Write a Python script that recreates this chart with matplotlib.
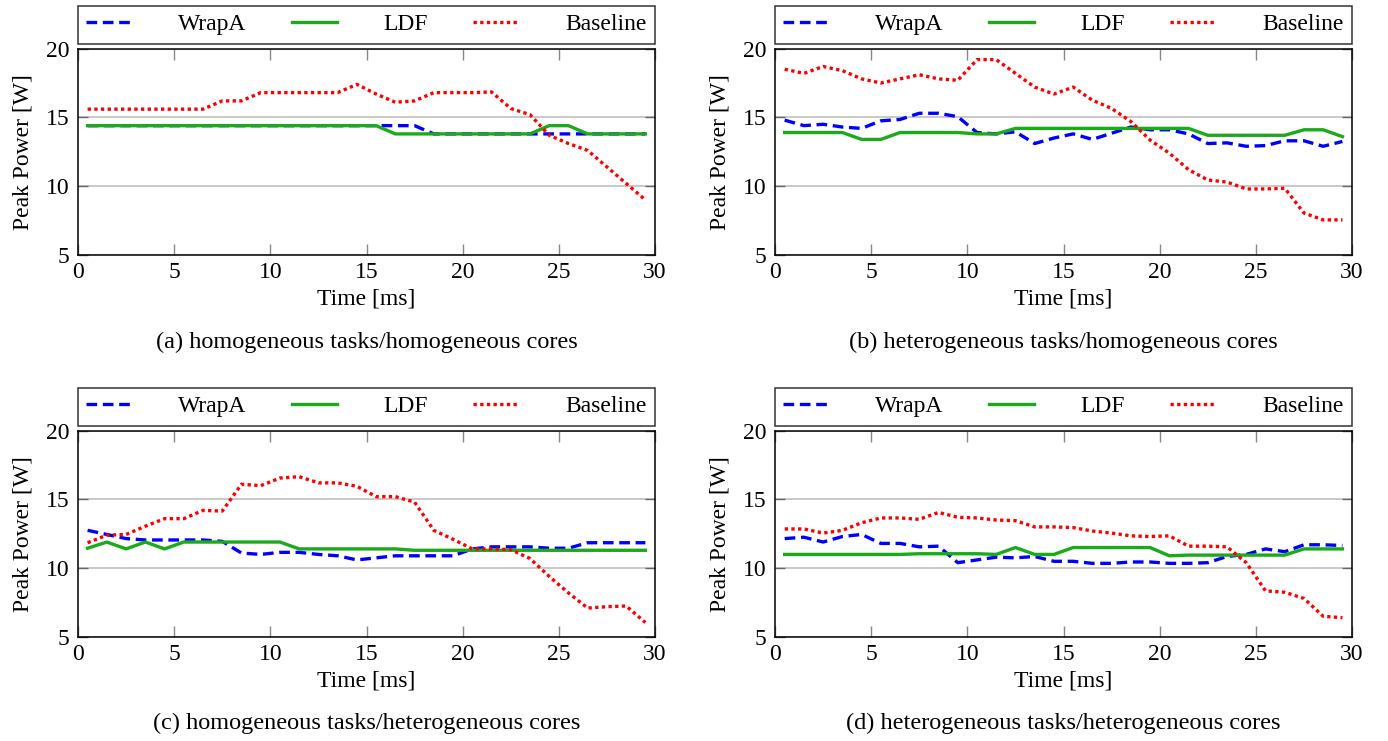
import matplotlib
matplotlib.use("Agg")
import matplotlib.pyplot as plt

plt.rcParams["font.family"] = ["Liberation Serif", "DejaVu Serif"]

time_ms = [0.5, 1.5, 2.5, 3.5, 4.5, 5.5, 6.5, 7.5, 8.5, 9.5,
           10.5, 11.5, 12.5, 13.5, 14.5, 15.5, 16.5, 17.5, 18.5, 19.5,
           20.5, 21.5, 22.5, 23.5, 24.5, 25.5, 26.5, 27.5, 28.5, 29.5]

# (a) homogeneous tasks / homogeneous cores
wrapa_a = [14.4, 14.4, 14.4, 14.4, 14.4, 14.4, 14.4, 14.4, 14.4, 14.4,
           14.4, 14.4, 14.4, 14.4, 14.4, 14.4, 14.4, 14.4, 13.8, 13.8,
           13.8, 13.8, 13.8, 13.8, 13.8, 13.8, 13.8, 13.8, 13.8, 13.8]
ldf_a = [14.4, 14.4, 14.4, 14.4, 14.4, 14.4, 14.4, 14.4, 14.4, 14.4,
         14.4, 14.4, 14.4, 14.4, 14.4, 14.4, 13.8, 13.8, 13.8, 13.8,
         13.8, 13.8, 13.8, 13.8, 14.4, 14.4, 13.8, 13.8, 13.8, 13.8]
base_a = [15.6, 15.6, 15.6, 15.6, 15.6, 15.6, 15.6, 16.2, 16.2, 16.8,
          16.8, 16.8, 16.8, 16.8, 17.4, 16.7, 16.1, 16.2, 16.8, 16.8,
          16.8, 16.85, 15.65, 15.2, 13.7, 13.1, 12.6, 11.4, 10.2, 9.0]

# (b) heterogeneous tasks / homogeneous cores
wrapa_b = [14.8, 14.4, 14.5, 14.3, 14.2, 14.75, 14.85, 15.3, 15.3, 15.05,
           13.9, 13.8, 13.95, 13.1, 13.5, 13.8, 13.4, 13.85, 14.3, 14.1,
           14.1, 13.8, 13.1, 13.15, 12.9, 12.95, 13.3, 13.3, 12.9, 13.25]
ldf_b = [13.9, 13.9, 13.9, 13.9, 13.4, 13.4, 13.9, 13.9, 13.9, 13.9,
         13.8, 13.8, 14.2, 14.2, 14.2, 14.2, 14.2, 14.2, 14.2, 14.2,
         14.2, 14.2, 13.7, 13.7, 13.7, 13.7, 13.7, 14.1, 14.1, 13.6]
base_b = [18.5, 18.2, 18.7, 18.4, 17.8, 17.5, 17.8, 18.1, 17.8, 17.7,
          19.2, 19.2, 18.2, 17.2, 16.7, 17.2, 16.25, 15.65, 14.7, 13.35,
          12.4, 11.2, 10.45, 10.3, 9.8, 9.8, 9.85, 8.05, 7.55, 7.55]

# (c) homogeneous tasks / heterogeneous cores
wrapa_c = [12.75, 12.45, 12.15, 12.05, 12.05, 12.05, 12.05, 11.95, 11.1, 11.0,
           11.15, 11.15, 11.0, 10.9, 10.6, 10.75, 10.9, 10.9, 10.9, 10.9,
           11.4, 11.55, 11.55, 11.55, 11.45, 11.45, 11.85, 11.85, 11.85, 11.85]
ldf_c = [11.45, 11.9, 11.4, 11.9, 11.4, 11.9, 11.9, 11.9, 11.9, 11.9,
         11.9, 11.4, 11.4, 11.4, 11.4, 11.4, 11.4, 11.3, 11.3, 11.3,
         11.3, 11.3, 11.3, 11.3, 11.3, 11.3, 11.3, 11.3, 11.3, 11.3]
base_c = [11.85, 12.4, 12.45, 13.05, 13.6, 13.6, 14.2, 14.15, 16.1, 16.0,
          16.55, 16.65, 16.2, 16.2, 15.95, 15.2, 15.2, 14.8, 12.75, 12.1,
          11.4, 11.4, 11.35, 10.7, 9.4, 8.2, 7.1, 7.2, 7.25, 6.05]

# (d) heterogeneous tasks / heterogeneous cores
wrapa_d = [12.15, 12.25, 11.9, 12.3, 12.45, 11.8, 11.8, 11.55, 11.6, 10.4,
           10.6, 10.8, 10.75, 10.85, 10.5, 10.5, 10.35, 10.35, 10.45, 10.45,
           10.35, 10.35, 10.4, 10.85, 11.0, 11.4, 11.2, 11.7, 11.7, 11.65]
ldf_d = [11.0, 11.0, 11.0, 11.0, 11.0, 11.0, 11.0, 11.05, 11.05, 11.05,
         11.05, 11.0, 11.5, 11.0, 11.0, 11.5, 11.5, 11.5, 11.5, 11.5,
         10.9, 10.95, 10.95, 10.95, 10.95, 10.95, 10.95, 11.4, 11.4, 11.4]
base_d = [12.85, 12.85, 12.55, 12.75, 13.3, 13.65, 13.65, 13.55, 14.05, 13.7,
          13.65, 13.5, 13.45, 13.0, 13.0, 12.95, 12.7, 12.55, 12.35, 12.3,
          12.35, 11.6, 11.6, 11.55, 10.4, 8.35, 8.25, 7.8, 6.5, 6.4]

captions = ["(a) homogeneous tasks/homogeneous cores",
            "(b) heterogeneous tasks/homogeneous cores",
            "(c) homogeneous tasks/heterogeneous cores",
            "(d) heterogeneous tasks/heterogeneous cores"]
panels = [(wrapa_a, ldf_a, base_a), (wrapa_b, ldf_b, base_b),
          (wrapa_c, ldf_c, base_c), (wrapa_d, ldf_d, base_d)]

FS = 17
fig = plt.figure(figsize=(13.88, 7.41), dpi=100)

# axes rectangles in figure fractions
lefts = [0.0562, 0.5584, 0.0562, 0.5584]
bottoms = [0.6559, 0.6559, 0.1404, 0.1404]
W, H = 0.4157, 0.2785
cap_y = [0.5385, 0.5385, 0.0243, 0.0243]

for i, (wa, ld, bl) in enumerate(panels):
    ax = fig.add_axes([lefts[i], bottoms[i], W, H])
    ax.plot(time_ms, wa, color="#0000ff", lw=2.4, dashes=(3.2, 1.7), label="WrapA", zorder=3)
    ax.plot(time_ms, ld, color="#1aaa1a", lw=2.4, label="LDF", zorder=3)
    ax.plot(time_ms, bl, color="#ff0000", lw=2.4, dashes=(1, 1), label="Baseline", zorder=3)
    ax.set_xlim(0, 30)
    ax.set_ylim(5, 20)
    ax.set_xticks([0, 5, 10, 15, 20, 25, 30])
    ax.set_yticks([5, 10, 15, 20])
    ax.grid(axis="y", color="#bbbbbb", lw=1.1)
    ax.tick_params(axis="x", direction="in", length=8, width=1, color="#888888",
                   top=True, labelsize=FS, pad=5)
    ax.tick_params(axis="y", direction="in", length=7, width=1, color="#666666",
                   right=True, labelsize=FS, pad=6)
    for sp in ax.spines.values():
        sp.set_linewidth(1.1)
    ax.set_xlabel("Time [ms]", fontsize=FS, labelpad=4)
    ax.set_ylabel("Peak Power [W]", fontsize=FS, labelpad=9)
    leg = ax.legend(loc="lower left", bbox_to_anchor=(0, 1.024, 1, 0.2), mode="expand",
                    ncol=3, borderaxespad=0, fontsize=FS, frameon=True, fancybox=False,
                    edgecolor="#333333", framealpha=1, handlelength=1.9,
                    handletextpad=2.0, borderpad=0.35)
    leg.get_frame().set_linewidth(1.1)
    fig.text(lefts[i] + W / 2, cap_y[i], captions[i], ha="center", va="center",
             fontsize=17.5)

fig.savefig("out.png", dpi=100)
